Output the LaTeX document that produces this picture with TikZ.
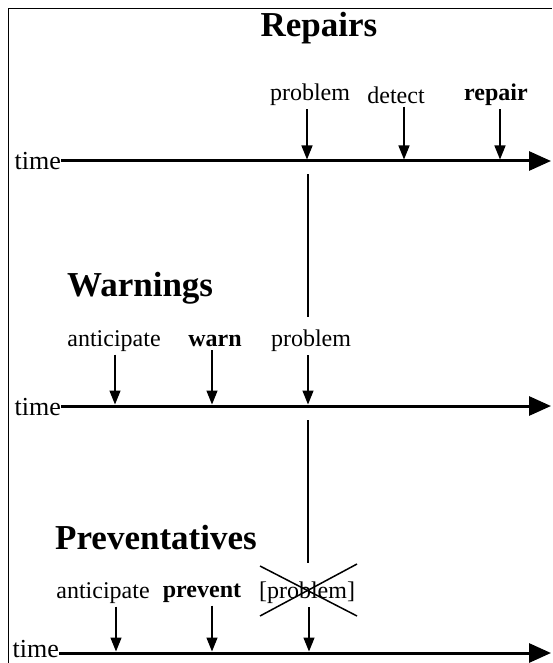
\documentclass[tikz,border=0pt]{standalone}
\usepackage{fontspec}
\setmainfont{Liberation Serif}
\usetikzlibrary{arrows.meta}

\begin{document}
\begin{tikzpicture}[x=1pt, y=-1pt,
    heading/.style={font=\fontsize{35}{40}\selectfont\bfseries, inner sep=0pt},
    eventlbl/.style={font=\fontsize{24}{28}\selectfont, inner sep=0pt},
    eventbold/.style={font=\fontsize{24}{28}\selectfont\bfseries, inner sep=0pt},
    timelbl/.style={font=\fontsize{26}{30}\selectfont, inner sep=0pt, anchor=east},
    timeline/.style={-{Triangle[length=22pt, width=19pt]}, line width=3pt},
    event/.style={-{Triangle[length=14pt, width=11pt]}, line width=1.4pt, shorten <=3pt},
    link/.style={line width=1.2pt}
]
\useasboundingbox (0,0) rectangle (552,663);

% Frame
\draw[line width=1pt] (8,663) -- (8,9) -- (552,9);

% Repairs
\node[heading] (repairs) at (319,28) {Repairs};
\node[timelbl] (time1) at (61,161) {time};
\coordinate (end1) at (551,161);
\draw[timeline] (time1.east |- end1) -- (end1);

\node[eventlbl] (prob1) at (310,95) {problem};
\node[eventlbl] (detect1) at (396,95) {detect};
\node[eventbold] (repair1) at (496,95) {repair};
\coordinate (p1) at (307,159.5);
\coordinate (d1) at (404,159.5);
\coordinate (r1) at (500,159.5);
\draw[event] (prob1.south -| p1) -- (p1);
\draw[event] (detect1.south -| d1) -- (d1);
\draw[event] (repair1.south -| r1) -- (r1);

% Warnings
\node[heading, anchor=west] (warnings) at (67,288) {Warnings};
\node[timelbl] (time2) at (61,407) {time};
\coordinate (end2) at (551,406);
\draw[timeline] (time2.east |- end2) -- (end2);

\node[eventlbl] (antic2) at (114,341) {anticipate};
\node[eventbold] (warn2) at (215,341) {warn};
\node[eventlbl] (prob2) at (311,341) {problem};
\coordinate (a2) at (115,404.5);
\coordinate (w2) at (212,404.5);
\coordinate (p2) at (308,404.5);
\draw[event] (antic2.south -| a2) -- (a2);
\draw[event] (warn2.south -| w2) -- (w2);
\draw[event] (prob2.south -| p2) -- (p2);

% problem carried down from Repairs
\coordinate (v1) at (308,174);
\coordinate (v2) at (308,317);
\draw[link] (v1) -- (v2);

% Preventatives
\node[heading, anchor=west] (prevs) at (55,538) {Preventatives};
\node[timelbl] (time3) at (59,649) {time};
\coordinate (end3) at (551,653);
\draw[timeline] (time3.east |- end3) -- (end3);

\node[eventlbl] (antic3) at (103,593) {anticipate};
\node[eventbold] (prevent3) at (202,593) {prevent};
\node[eventlbl] (prob3) at (307,593) {[problem]};
\coordinate (a3) at (116,651.5);
\coordinate (v3) at (212,651.5);
\coordinate (p3) at (309,651.5);
\draw[event] (antic3.south -| a3) -- (a3);
\draw[event] (prevent3.south -| v3) -- (v3);
\draw[event] (prob3.south -| p3) -- (p3);

% problem carried down from Warnings
\coordinate (v4) at (308,420);
\coordinate (v5) at (308,563);
\draw[link] (v4) -- (v5);

% Cross over the prevented problem
\draw[line width=1.5pt] (260,566) -- (357,616);
\draw[line width=1.5pt] (260,616) -- (357,564);

\end{tikzpicture}
\end{document}
